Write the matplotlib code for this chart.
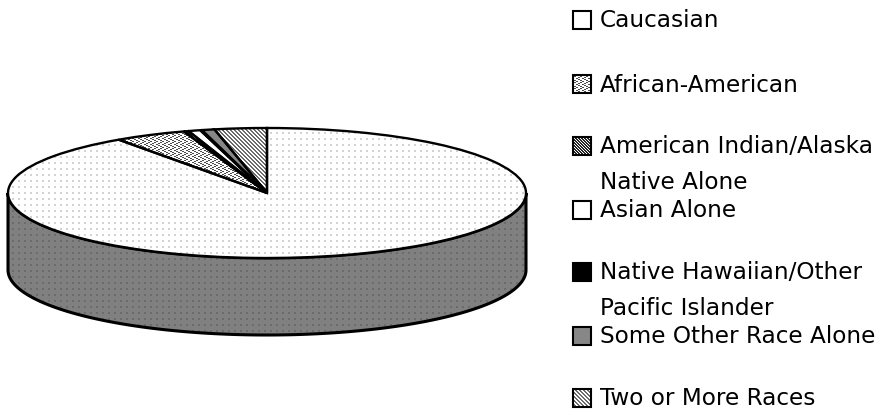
import numpy as np
import matplotlib.pyplot as plt
from matplotlib.patches import Rectangle, Wedge
from matplotlib.transforms import Affine2D

# Racial composition shares, clockwise from 12 o'clock
categorias = ["Caucasian", "African-American", "American Indian/Alaska\nNative Alone",
              "Asian Alone", "Native Hawaiian/Other\nPacific Islander",
              "Some Other Race Alone", "Two or More Races"]
valores = [90.3, 4.5, 0.3, 0.75, 0.1, 0.8, 3.25]
patrones = ["dots", "wave", "dark", "white", "black", "grey", "diag"]

W, H = 880, 413
yy, xx = np.mgrid[0:H, 0:W]


def textura(nombre):
    # Pixel fill patterns repeated over the whole canvas
    img = np.ones((H, W))
    if nombre == "dots":
        img[(xx % 6 < 2) & (yy % 6 < 2)] = 0.83
    elif nombre == "wave":
        img[(xx + 2 * np.abs((yy % 6) - 3)) % 6 < 2] = 0.3
    elif nombre == "dark":
        img[(xx - yy) % 3 != 0] = 0.15
    elif nombre == "black":
        img[:] = 0
    elif nombre == "grey":
        img[:] = 0.53
    elif nombre == "diag":
        img[(xx - yy) % 4 < 2] = 0.42
    return img


def pintar(img, recorte, z):
    im = ax.imshow(img, cmap="gray", vmin=0, vmax=1, extent=(0, W, H, 0), zorder=z,
                   interpolation="nearest", aspect="auto")
    im.set_clip_path(recorte)


cx, cy = 267, 193
rx, ry = 259, 65
grosor = 77

fig = plt.figure(figsize=(8.8, 4.13), dpi=100)
ax = fig.add_axes([0, 0, 1, 1])
ax.axis("off")

# Side wall of the disc: lower half of the outline pushed down by its thickness
borde = np.radians(np.linspace(0, 180, 181))
xs = cx + rx * np.cos(borde)
ys = cy + ry * np.sin(borde)
pared = np.full((H, W), 0.5)
pared[(xx % 6 < 2) & (yy % 6 < 2)] = 0.42
contorno, = ax.fill(np.concatenate([xs, xs[::-1]]), np.concatenate([ys, ys[::-1] + grosor]),
                    facecolor="none", edgecolor="black", lw=2.2, zorder=2)
pintar(pared, contorno, 1)

# Top face: wedges in a unit circle squashed to the ellipse
trans = Affine2D().scale(rx, -ry).translate(cx, cy) + ax.transData
fracs = np.array(valores) / sum(valores) * 360
inicio = 90.0
for frac, patron in zip(fracs, patrones):
    fin = inicio
    inicio = inicio - frac
    cuna = Wedge((0, 0), 1, inicio, fin, transform=trans, facecolor="none",
                 edgecolor="black", lw=1.7, zorder=4)
    ax.add_patch(cuna)
    pintar(textura(patron), cuna, 3)

# Legend with hand placed rows, as the labels wrap over two lines
caja_y = [19.5, 84, 145.5, 209.5, 272, 336, 397.5]
base_y = [27, 92, 153, 217, 279, 343, 405]
for nombre, patron, yc, yb in zip(categorias, patrones, caja_y, base_y):
    caja = Rectangle((573, yc - 9), 18, 18, facecolor="none", edgecolor="black", lw=1.5, zorder=6)
    ax.add_patch(caja)
    if patron != "dots":
        pintar(textura(patron), caja, 5)
    for i, linea in enumerate(nombre.split("\n")):
        ax.text(600, yb + 36 * i, linea, fontsize=16.7, family="DejaVu Sans", va="baseline",
                ha="left", zorder=7)

ax.set_xlim(0, W)
ax.set_ylim(H, 0)
fig.savefig("out.png", dpi=100)
